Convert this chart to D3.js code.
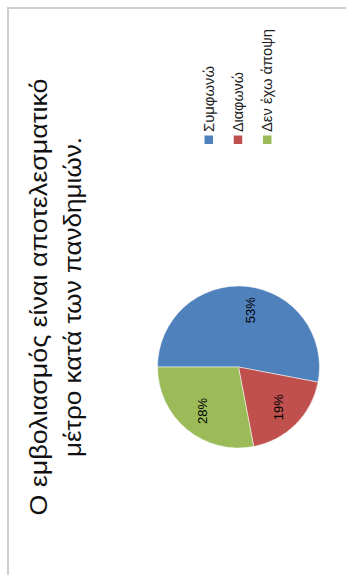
<!DOCTYPE html>
<html>
<head>
<meta charset="utf-8">
<script src="https://cdn.jsdelivr.net/npm/d3@7"></script>
<style>
html,body{margin:0;padding:0;background:#fff;}
svg{display:block;}
</style>
</head>
<body>
<script>
const titleLines = ["Ο εμβολιασμός είναι αποτελεσματικό", "μέτρο κατά των πανδημιών."];
const categories = ["Συμφωνώ", "Διαφωνώ", "Δεν έχω άποψη"];
const values = [53, 19, 28];
const colors = ["#4f81bd", "#c0504d", "#9bbb59"];

const W = 346, H = 575;
const svg = d3.select("body").append("svg").attr("width", W).attr("height", H);

// frame
svg.append("line").attr("x1", 7).attr("y1", 8).attr("x2", W).attr("y2", 8)
  .attr("stroke", "#cfcfcf").attr("stroke-width", 2);
svg.append("line").attr("x1", 8).attr("y1", 7).attr("x2", 8).attr("y2", H)
  .attr("stroke", "#cfcfcf").attr("stroke-width", 2);

// title (rotated, reading bottom to top)
const titleBase = [47, 81];
const titleLen = [437, 320];
titleLines.forEach((t, i) => {
  svg.append("text")
    .attr("transform", `translate(${titleBase[i]},297) rotate(-90)`)
    .attr("text-anchor", "middle")
    .attr("font-family", "Liberation Sans, Arial, sans-serif")
    .attr("font-size", 24)
    .attr("fill", "#111")
    .attr("textLength", titleLen[i])
    .attr("lengthAdjust", "spacingAndGlyphs")
    .text(t);
});

// pie
const cx = 238.5, cy = 367, r = 81;
const pie = d3.pie().sort(null).value(d => d).startAngle(-Math.PI / 2).endAngle(1.5 * Math.PI);
const arcs = pie(values);
const arc = d3.arc().innerRadius(0).outerRadius(r);
const labelArc = d3.arc().innerRadius(57).outerRadius(57);
const g = svg.append("g").attr("transform", `translate(${cx},${cy})`);
g.selectAll("path").data(arcs).enter().append("path")
  .attr("d", arc)
  .attr("fill", (d, i) => colors[i])
  .attr("stroke", "#ffffff").attr("stroke-width", 0.5);
g.selectAll("text.lbl").data(arcs).enter().append("text")
  .attr("class", "lbl")
  .attr("transform", (d, i) => { const c = labelArc.centroid(d); return `translate(${c[0] + (i === 0 ? 7 : 0)},${c[1]}) rotate(-90)`; })
  .attr("text-anchor", "middle")
  .attr("dy", "0.35em")
  .attr("font-family", "Liberation Sans, Arial, sans-serif")
  .attr("font-size", 13)
  .attr("fill", "#000")
  .text(d => Math.round(d.value / d3.sum(values) * 100) + "%");

// legend
const legX = d3.scalePoint().domain(categories).range([209, 267.5]);
const legLen = [66, 60, 103];
const leg = svg.append("g");
categories.forEach((c, i) => {
  const x = legX(c);
  leg.append("rect").attr("x", x - 4.5).attr("y", 135.5).attr("width", 8.5).attr("height", 8.5)
    .attr("fill", colors[i]);
  leg.append("text")
    .attr("transform", `translate(${x},132) rotate(-90)`)
    .attr("text-anchor", "start")
    .attr("dy", "0.35em")
    .attr("font-family", "Liberation Sans, Arial, sans-serif")
    .attr("font-size", 14)
    .attr("fill", "#222")
    .attr("textLength", legLen[i])
    .attr("lengthAdjust", "spacingAndGlyphs")
    .text(c);
});
</script>
</body>
</html>
